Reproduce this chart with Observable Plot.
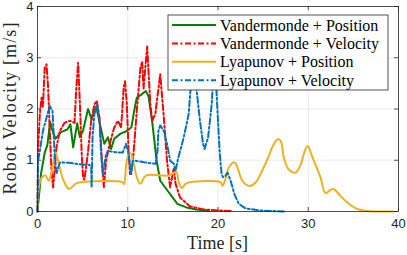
<!DOCTYPE html>
<html><head><meta charset="utf-8">
<script src="https://cdn.jsdelivr.net/npm/d3@7"></script>
<script src="https://cdn.jsdelivr.net/npm/@observablehq/plot@0.6"></script>
<style>body{margin:0;background:#fff}#chart{width:407px;height:255px}.lgtext{font-family:"Liberation Serif";font-size:16px}</style>
</head><body><div id="chart"></div>
<script>
const seriesNames = ["Vandermonde + Position", "Vandermonde + Velocity", "Lyapunov + Position", "Lyapunov + Velocity"];
const seriesColors = ["#008000", "#ff0000", "#EDB120", "#0072BD"];
const seriesDash = [null, "6,2.5,2,2.5", null, "6,2.5,2,2.5"];
const xTicks = [0, 10, 20, 30, 40];
const yTicks = [0, 1, 2, 3, 4];
const xLabel = "Time [s]";
const yLabel = "Robot Velocity [m/s]";

// [time, velocity]
const vandermondePosition = [[0,0],[0.4,0.75],[0.8,1.15],[1.1,1.3],[1.4,1.75],[1.7,1.55],[2.0,1.42],[2.6,1.55],[3.3,1.6],[3.65,1.7],[3.95,1.25],[4.4,1.72],[4.7,1.45],[5.05,1.58],[5.6,2.0],[6.0,1.8],[6.5,2.05],[6.9,1.72],[7.4,1.32],[7.8,1.45],[8.15,1.22],[8.5,1.42],[9.2,1.52],[9.8,1.56],[10.4,1.64],[10.7,1.95],[11.0,2.22],[11.5,2.28],[12.0,2.35],[12.3,2.25],[12.7,1.77],[13.2,0.99],[13.6,0.6],[14.4,0.41],[15.5,0.15],[16.5,0.08],[17.6,0.04],[19.0,0.01]];
const vandermondeVelocity = [[0,0],[0.07,1.25],[0.26,1.9],[0.45,2.22],[0.6,2.05],[0.8,2.8],[1.0,2.87],[1.18,2.41],[1.36,1.57],[1.55,0.8],[1.73,0.47],[2.1,1.25],[2.47,1.57],[3.0,1.73],[3.6,1.77],[4.1,1.73],[4.3,2.41],[4.5,2.9],[4.7,2.1],[4.9,1.12],[5.05,0.67],[5.2,0.62],[5.57,1.12],[5.95,1.77],[6.3,2.09],[6.57,2.16],[6.87,1.83],[7.1,1.12],[7.35,0.47],[7.6,0.99],[8.0,1.32],[8.5,1.64],[8.9,1.77],[9.27,1.64],[9.55,2.41],[9.7,2.54],[9.9,2.1],[10.1,1.12],[10.25,0.73],[10.55,0.93],[11.0,1.96],[11.4,2.8],[11.6,2.93],[11.75,2.4],[12.15,3.22],[12.5,2.1],[12.7,1.77],[13.05,1.9],[13.6,2.68],[14.0,1.83],[14.35,0.99],[14.7,0.47],[15.1,0.85],[15.3,0.54],[15.8,0.27],[16.9,0.1],[18.4,0.04],[20.0,0.02],[21.5,0.01]];
const lyapunovPosition = [[0,0],[0.15,0.47],[0.5,0.67],[0.9,0.7],[1.25,0.6],[1.6,0.8],[2.0,1.15],[2.35,0.93],[2.9,0.6],[3.5,0.44],[4.2,0.54],[4.76,0.57],[9.45,0.57],[9.6,0.53],[9.9,1.0],[10.25,1.15],[10.65,0.95],[11.0,0.67],[11.4,0.54],[12.0,0.7],[14.4,0.7],[14.9,0.73],[15.4,0.77],[15.65,0.57],[16.0,0.46],[16.4,0.54],[16.9,0.57],[20.3,0.57],[20.5,0.5],[20.8,0.62],[21.2,0.86],[21.8,0.96],[22.15,0.86],[22.7,0.6],[23.45,0.5],[24.2,0.57],[24.9,0.8],[25.65,1.09],[26.0,1.25],[26.6,1.41],[26.95,1.38],[27.3,1.05],[27.8,0.83],[28.6,0.76],[29.1,0.89],[29.7,1.22],[29.95,1.28],[30.4,1.09],[31.35,0.67],[31.9,0.36],[32.45,0.42],[32.8,0.44],[33.55,0.31],[34.3,0.18],[35.4,0.05],[36.5,0.01],[39.4,0]];
const lyapunovVelocity = [[0,0],[0.07,1.0],[0.26,1.18],[0.6,1.57],[1.0,1.83],[1.36,2.06],[1.66,1.96],[1.8,1.5],[1.9,1.12],[2.1,0.73],[2.3,0.86],[2.5,0.96],[3.5,0.95],[4.3,0.93],[5.25,0.91],[5.75,0.91],[5.95,0.86],[6.0,0.47],[6.1,1.44],[6.3,1.9],[6.6,2.09],[6.87,1.77],[7.05,1.12],[7.23,0.73],[7.6,1.12],[7.8,1.18],[8.9,1.15],[9.45,1.15],[9.8,1.32],[10.0,1.2],[10.2,1.0],[10.4,0.73],[10.55,0.99],[10.85,0.99],[11.8,0.96],[13.1,0.93],[13.3,1.2],[13.4,1.57],[13.6,1.68],[14.0,1.57],[14.35,1.32],[14.7,0.99],[15.1,0.93],[15.3,0.8],[15.6,1.05],[16.2,1.44],[16.75,1.9],[17.05,2.6],[17.3,2.9],[17.6,2.41],[18.0,1.77],[18.35,1.32],[18.5,1.22],[18.9,1.44],[19.3,2.09],[19.45,2.54],[19.7,2.8],[20.0,1.77],[20.2,1.12],[20.4,0.73],[20.55,0.67],[20.85,0.7],[21.05,0.76],[21.4,0.6],[21.8,0.35],[22.3,0.15],[23.05,0.06],[24.7,0.02],[27.3,0]];

const allSeries = [vandermondePosition, vandermondeVelocity, lyapunovPosition, lyapunovVelocity];
const seriesCurve = ["linear", "linear", "catmull-rom", "linear"];

const W = 407, H = 255, mL = 37, mR = 9, mT = 6, mB = 44;
const fw = W - mL - mR, fh = H - mT - mB;
const axisColor = "#262626";
const serif = "Liberation Serif";

const plot = Plot.plot({
  width: W, height: H,
  marginLeft: mL, marginRight: mR, marginTop: mT, marginBottom: mB,
  x: {domain: [0, 40]},
  y: {domain: [0, 4]},
  style: {fontFamily: "Liberation Sans, Arial, sans-serif", fontSize: "13px", color: axisColor, background: "#fff"},
  marks: [
    Plot.gridX(xTicks, {stroke: axisColor, strokeOpacity: 0.13, strokeWidth: 0.8}),
    Plot.gridY(yTicks, {stroke: axisColor, strokeOpacity: 0.13, strokeWidth: 0.8}),
    ...allSeries.map((arr, i) => Plot.line(arr, {
      x: d => d[0], y: d => d[1],
      stroke: seriesColors[i], strokeWidth: 2,
      strokeDasharray: seriesDash[i] || undefined,
      curve: seriesCurve[i]
    })),
    Plot.frame({stroke: axisColor, strokeWidth: 0.8}),
    Plot.tickX(xTicks, {x: d => d, insetTop: fh - 4, stroke: axisColor, strokeWidth: 0.8}),
    Plot.tickX(xTicks, {x: d => d, insetBottom: fh - 4, stroke: axisColor, strokeWidth: 0.8}),
    Plot.tickY(yTicks, {y: d => d, insetRight: fw - 4, stroke: axisColor, strokeWidth: 0.8}),
    Plot.tickY(yTicks, {y: d => d, insetLeft: fw - 4, stroke: axisColor, strokeWidth: 0.8}),
    Plot.axisX(xTicks, {tickSize: 0, tickPadding: 7, label: null, fill: axisColor, tickFormat: d3.format("d")}),
    Plot.axisY(yTicks, {tickSize: 0, tickPadding: 4, label: null, fill: axisColor, tickFormat: d3.format("d")})
  ]
});
document.getElementById("chart").appendChild(plot);

const svg = d3.select(plot);
// LaTeX-like serif axis labels
svg.append("text").attr("x", mL + fw / 2).attr("y", 249)
  .attr("font-family", serif).attr("font-size", 18).attr("fill", axisColor)
  .attr("text-anchor", "middle").text(xLabel);
svg.append("text").attr("transform", `translate(16,${mT + fh / 2}) rotate(-90)`)
  .attr("font-family", serif).attr("font-size", 18).attr("fill", axisColor)
  .attr("text-anchor", "middle").attr("textLength", 172).attr("lengthAdjust", "spacing").text(yLabel);

// legend inside the axes (upper right)
const lg = svg.append("g").attr("font-family", serif);
lg.append("rect").attr("x", 168).attr("y", 15).attr("width", 220).attr("height", 75)
  .attr("fill", "#fff").attr("stroke", axisColor).attr("stroke-width", 0.8);
seriesNames.forEach((name, i) => {
  const y = 25 + 18.4 * i;
  lg.append("line").attr("x1", 172).attr("x2", 216).attr("y1", y).attr("y2", y)
    .attr("stroke", seriesColors[i]).attr("stroke-width", 2)
    .attr("stroke-dasharray", seriesDash[i]);
  lg.append("text").attr("class", "lgtext").attr("x", 220).attr("y", y).attr("dy", "0.35em")
    .attr("font-family", serif).attr("font-size", 16)
    .attr("text-anchor", "start").attr("fill", "#000")
    .text(name);
});
</script>
</body></html>
